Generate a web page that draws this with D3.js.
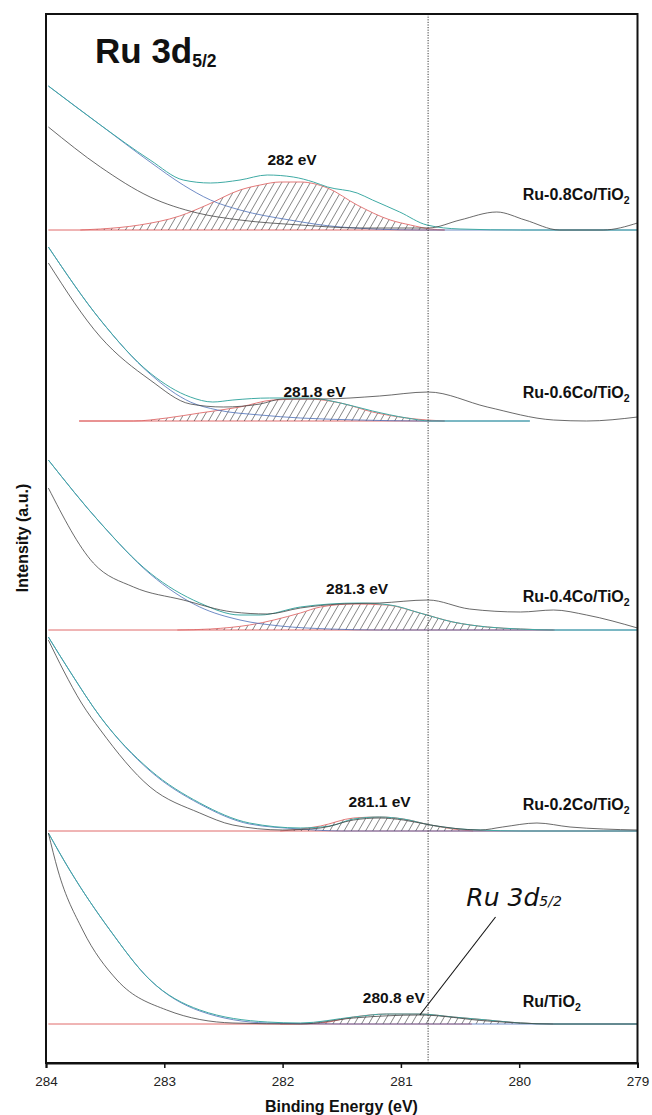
<!DOCTYPE html>
<html><head><meta charset="utf-8">
<script src="https://cdn.jsdelivr.net/npm/d3@7"></script>
<style>body{margin:0;background:#fff}svg{display:block}text{font-family:"Liberation Sans",Arial,sans-serif}</style>
</head><body><svg id="c" width="652" height="1115"></svg>
<script>
// ---------- data ----------
const xTicks = [284, 283, 282, 281, 280, 279];
const sampleNames = ["Ru/TiO", "Ru-0.2Co/TiO", "Ru-0.4Co/TiO", "Ru-0.6Co/TiO", "Ru-0.8Co/TiO"];
const offsets = [39, 232, 433, 642, 833];
const peakLabels = ["280.8 eV", "281.1 eV", "281.3 eV", "281.8 eV", "282 eV"];
const peakLabelAt = [[281.06, 21], [281.18, 24], [281.37, 36], [281.73, 24], [281.92, 65]];
const nameLabelAt = [[279.97, 17], [279.97, 21], [279.97, 28], [279.97, 23], [279.97, 30]];
const redBase = [[283.98, 280.40], [283.98, 279.00], [283.98, 279.70], [283.72, 280.63], [283.98, 280.63]];
const refLine = 280.77;
const annotLine = [[280.20, 107], [280.84, 9]];
const annotTextAt = [280.43, 107];

// Ru/TiO2
const env00 = [[283.98,191],[283.80,154],[283.46,94],[283.12,44],[282.70,14],[282.13,2],[281.85,1],[281.40,7],[281.12,10],[280.84,10],[280.56,7],[280.27,4],[279.99,1],[279.71,0],[279.0,0]];
const raw00 = [[283.98,191],[283.90,154],[283.69,94],[283.40,44],[282.98,14],[282.42,1],[281.85,0],[281.40,6],[280.84,9],[280.27,3],[279.71,0],[279.0,0]];
const bg00 = [[283.98,191],[283.80,154],[283.46,94],[283.12,44],[282.70,13],[282.13,1],[281.50,0],[279.0,0]];
const peak00 = [[282.02,0],[281.68,1],[281.40,7],[281.12,10],[280.84,10],[280.56,7],[280.27,4],[279.99,1],[279.71,0]];
// Ru-0.2Co/TiO2
const env02 = [[283.98,194],[283.80,160],[283.54,114],[283.12,61],[282.70,28],[282.28,8],[281.85,3],[281.60,5],[281.40,12],[281.18,14],[280.98,12],[280.75,6],[280.50,2],[280.33,1],[279.99,0],[279.0,0]];
const raw02 = [[283.98,191],[283.85,160],[283.70,128],[283.54,101],[283.12,44],[282.70,18],[282.42,6],[282.0,1],[281.68,3],[281.40,11],[281.18,13],[280.98,11],[280.75,6],[280.33,1],[280.14,4],[279.85,8],[279.57,4],[279.29,2],[279.0,1]];
const bg02 = [[283.98,194],[283.80,160],[283.54,114],[283.12,60],[282.70,27],[282.28,7],[281.85,2],[281.50,0],[279.0,0]];
const peak02 = [[282.02,0],[281.85,2],[281.68,5],[281.40,13],[281.18,14],[280.98,12],[280.75,6],[280.56,2],[280.39,0]];
// Ru-0.4Co/TiO2
const env04 = [[283.98,170],[283.54,107],[283.12,57],[282.70,27],[282.36,15],[282.19,15],[281.85,23],[281.60,26],[281.35,27],[281.09,25],[280.84,17],[280.56,8],[280.27,3],[279.99,1],[279.71,0],[279.0,0]];
const raw04 = [[283.98,142],[283.60,67],[283.26,43],[282.84,30],[282.42,18],[282.13,16],[281.85,22],[281.51,26],[281.18,27],[280.77,30],[280.42,21],[279.99,18],[279.71,20],[279.43,15],[279.0,2]];
const bg04 = [[283.98,170],[283.54,107],[283.12,56],[282.70,23],[282.36,10],[282.02,4],[281.60,1],[281.18,0],[279.0,0]];
const peak04 = [[282.89,0],[282.61,1],[282.28,5],[281.85,17],[281.68,23],[281.40,26],[281.12,25],[280.84,17],[280.56,8],[280.27,3],[279.99,1],[279.71,0]];
// Ru-0.6Co/TiO2
const env06 = [[283.98,174],[283.54,101],[283.12,48],[282.78,24],[282.59,19],[282.42,21],[282.11,23],[281.77,23],[281.51,18],[281.24,10],[280.95,3],[280.75,0],[279.91,0]];
const raw06 = [[283.98,158],[283.54,84],[283.12,41],[282.78,17],[282.50,14],[282.19,17],[282.0,22],[281.68,22],[281.18,25],[280.77,29],[280.27,14],[279.71,1],[279.43,0],[279.0,4]];
const bg06 = [[283.98,174],[283.54,101],[283.12,47],[282.78,19],[282.55,11],[282.19,6],[281.85,3],[281.35,1],[280.84,0],[279.91,0]];
const peak06 = [[283.72,0],[283.26,0],[282.98,3],[282.70,8],[282.36,14],[282.08,21],[281.79,22],[281.51,18],[281.24,9],[280.95,3],[280.78,1],[280.63,0]];
// Ru-0.8Co/TiO2
const env08 = [[283.98,144],[283.54,105],[283.12,70],[282.84,50],[282.61,47],[282.36,50],[282.13,55],[281.91,53],[281.74,48],[281.62,43],[281.37,37],[281.24,30],[281.01,18],[280.78,5],[280.50,1],[279.99,0],[279.0,0]];
const raw08 = [[283.98,103],[283.54,63],[283.12,33],[282.72,17],[282.36,10],[281.85,5],[281.35,2],[280.77,2],[280.50,10],[280.19,18],[279.95,10],[279.66,0],[279.29,0],[279.0,7]];
const bg08 = [[283.98,144],[283.54,105],[283.12,68],[282.84,45],[282.61,30],[282.36,20],[281.94,10],[281.51,3],[280.84,0],[279.0,0]];
const peak08 = [[283.71,0],[283.54,1],[283.21,5],[282.87,14],[282.64,25],[282.36,40],[282.19,45],[282.02,48],[281.85,48],[281.62,42],[281.37,25],[281.09,10],[280.92,5],[280.75,1],[280.63,0]];

const envs = [env00, env02, env04, env06, env08];
const raws = [raw00, raw02, raw04, raw06, raw08];
const bgs = [bg00, bg02, bg04, bg06, bg08];
const peaks = [peak00, peak02, peak04, peak06, peak08];

// ---------- chart ----------
const svg = d3.select("#c");
const W = 652, H = 1115;
const m = {l: 46, r: 14.5, t: 14, b: 52};
const x = d3.scaleLinear().domain([284, 279]).range([m.l, W - m.r]);
const y = d3.scaleLinear().domain([0, 1049]).range([H - m.b, m.t]);

const defs = svg.append("defs");
const pat = defs.append("pattern").attr("id", "hatch").attr("patternUnits", "userSpaceOnUse")
  .attr("width", 6.2).attr("height", 12).attr("patternTransform", "rotate(30)");
pat.append("line").attr("x1", 0).attr("y1", 0).attr("x2", 0).attr("y2", 12)
  .attr("stroke", "#111").attr("stroke-width", 0.9);
defs.append("clipPath").attr("id", "clip").append("rect")
  .attr("x", m.l).attr("y", m.t).attr("width", W - m.r - m.l).attr("height", H - m.b - m.t);

const g = svg.append("g").attr("clip-path", "url(#clip)");
const C = {teal: "#3faaa4", blue: "#4b6fb8", raw: "#444", red: "#e06a6a"};

sampleNames.forEach((name, i) => {
  const off = offsets[i];
  const line = d3.line().x(d => x(d[0])).y(d => y(d[1] + off)).curve(d3.curveMonotoneX);
  const area = d3.area().x(d => x(d[0])).y0(y(off)).y1(d => y(d[1] + off)).curve(d3.curveMonotoneX);
  // red baseline
  g.append("line").attr("x1", x(redBase[i][0])).attr("x2", x(redBase[i][1]))
    .attr("y1", y(off)).attr("y2", y(off)).attr("stroke", C.red).attr("stroke-width", 1);
  // peak component
  g.append("path").datum(peaks[i]).attr("d", area).attr("fill", "url(#hatch)").attr("stroke", "none");
  g.append("path").datum(peaks[i]).attr("d", line).attr("fill", "none").attr("stroke", C.red).attr("stroke-width", 0.9);
  // background
  g.append("path").datum(bgs[i]).attr("d", line).attr("fill", "none").attr("stroke", C.blue).attr("stroke-width", 0.8);
  // envelope
  g.append("path").datum(envs[i]).attr("d", line).attr("fill", "none").attr("stroke", C.teal).attr("stroke-width", 1);
  // raw
  g.append("path").datum(raws[i]).attr("d", line).attr("fill", "none").attr("stroke", C.raw).attr("stroke-width", 0.8);

  // peak label
  svg.append("text").attr("x", x(peakLabelAt[i][0])).attr("y", y(peakLabelAt[i][1] + off))
    .attr("text-anchor", "middle").attr("font-weight", "bold").attr("font-size", 15.5).attr("fill", "#111")
    .text(peakLabels[i]);
  // sample label
  const t = svg.append("text").attr("x", x(nameLabelAt[i][0])).attr("y", y(nameLabelAt[i][1] + off))
    .attr("font-weight", "bold").attr("font-size", 16).attr("fill", "#111");
  t.append("tspan").text(name);
  t.append("tspan").attr("font-size", 10.5).attr("dy", 4).text("2");
});

// reference dotted line
svg.append("line").attr("x1", x(refLine)).attr("x2", x(refLine)).attr("y1", y(0)).attr("y2", y(1049))
  .attr("stroke", "#222").attr("stroke-width", 0.9).attr("stroke-dasharray", "1.2,1.4");

// annotation
svg.append("line").attr("x1", x(annotLine[0][0])).attr("y1", y(annotLine[0][1] + offsets[0]))
  .attr("x2", x(annotLine[1][0])).attr("y2", y(annotLine[1][1] + offsets[0]))
  .attr("stroke", "#111").attr("stroke-width", 1.1);
const at = svg.append("text").attr("x", x(annotTextAt[0]) - 2).attr("y", y(annotTextAt[1] + offsets[0] + 11))
  .attr("font-style", "italic").attr("font-size", 25).attr("fill", "#111")
  .style("font-family", "'DejaVu Sans', sans-serif").attr("font-weight", 300);
at.append("tspan").text("Ru 3d");
at.append("tspan").attr("font-size", 14).text("5/2");

// frame
svg.append("rect").attr("x", m.l).attr("y", m.t).attr("width", W - m.r - m.l).attr("height", H - m.b - m.t)
  .attr("fill", "none").attr("stroke", "#111").attr("stroke-width", 2);

// x axis
const xa = svg.append("g").attr("transform", `translate(0,${H - m.b})`)
  .call(d3.axisBottom(x).tickValues(xTicks).tickFormat(d3.format("d")).tickSize(5).tickPadding(8));
xa.select(".domain").attr("stroke", "#111").attr("stroke-width", 2);
xa.selectAll(".tick line").attr("stroke", "#111").attr("stroke-width", 1.5);
xa.selectAll("text").attr("font-size", 13.5).attr("fill", "#222").style("font-family", "'Liberation Sans', Arial, sans-serif");

// titles
svg.append("text").attr("x", 341.5).attr("y", 1112).attr("text-anchor", "middle")
  .attr("font-weight", "bold").attr("font-size", 16).attr("fill", "#111").text("Binding Energy (eV)");
svg.append("text").attr("transform", "translate(28,538) rotate(-90)").attr("text-anchor", "middle")
  .attr("font-weight", "bold").attr("font-size", 16).attr("fill", "#111").text("Intensity (a.u.)");
const tt = svg.append("text").attr("x", 95).attr("y", 63).attr("font-weight", "bold").attr("font-size", 35).attr("fill", "#111");
tt.append("tspan").text("Ru 3d");
tt.append("tspan").attr("font-size", 17.5).attr("dy", 4).text("5/2");
</script></body></html>
